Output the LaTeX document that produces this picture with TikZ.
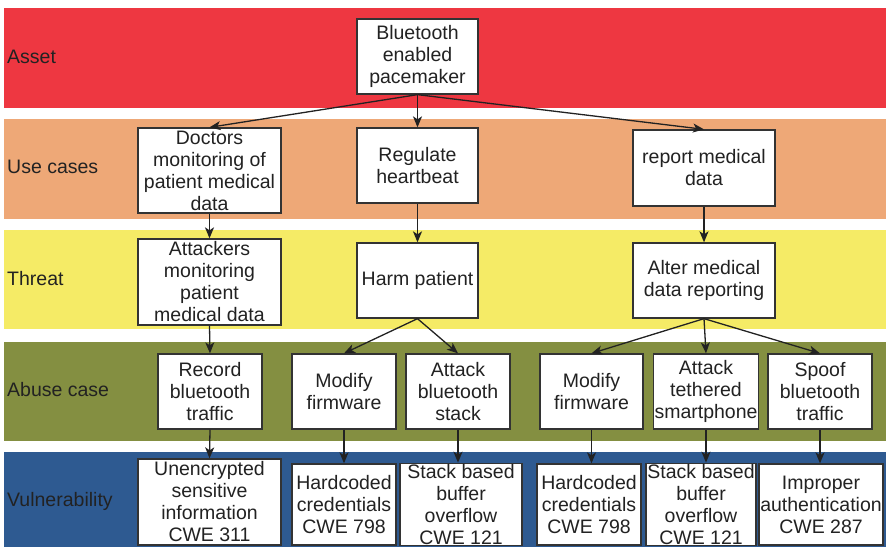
\documentclass[tikz,border=0pt]{standalone}
\usepackage{fontspec}
\setmainfont{Liberation Sans}
\usetikzlibrary{arrows.meta}

\definecolor{assetred}{HTML}{EE3741}
\definecolor{usecase}{HTML}{EEA877}
\definecolor{threatyellow}{HTML}{F5EB66}
\definecolor{abuseolive}{HTML}{848F41}
\definecolor{vulnblue}{HTML}{2E5A91}
\definecolor{inkdark}{HTML}{222222}
\definecolor{boxedge}{HTML}{333333}

\tikzset{
  box/.style={draw=boxedge, line width=1.3pt, fill=white, align=center,
    inner sep=1pt, text=inkdark, font=\fontsize{19.5}{22}\selectfont},
  lbl/.style={anchor=west, inner sep=0pt, text=inkdark,
    font=\fontsize{19.5}{22}\selectfont},
  arr/.style={-{Stealth[length=11pt,width=9pt,inset=3pt]}, line width=1.3pt, draw=inkdark}
}

\begin{document}
\begin{tikzpicture}[x=1pt,y=-1pt]
    \useasboundingbox (0,0) rectangle (888,548);

    % bands
    \fill[assetred] (4,8) rectangle (886,108);
    \fill[usecase] (4,119) rectangle (886,219);
    \fill[threatyellow] (4,230) rectangle (886,329);
    \fill[abuseolive] (4,342) rectangle (886,441);
    \fill[vulnblue] (4,452) rectangle (886,547);

    \node[lbl] (lasset) at (7,57) {Asset};
    \node[lbl] (luse) at (7,167) {Use cases};
    \node[lbl] (lthreat) at (7,279) {Threat};
    \node[lbl] (labuse) at (7,390) {Abuse case};
    \node[lbl] (lvuln) at (7,501) {Vulnerability};

    % asset
    \node[box, minimum width=121, minimum height=75] (pace) at (417.5,56.5) {Bluetooth\\enabled\\pacemaker};

    % use cases
    \node[box, minimum width=143, minimum height=85] (doc) at (209.5,170.5) {Doctors\\monitoring of\\patient medical\\data};
    \node[box, minimum width=121, minimum height=75] (reg) at (417.5,165.5) {Regulate\\heartbeat};
    \node[box, minimum width=142, minimum height=76] (rep) at (704,168) {report medical\\data};

    % threats
    \node[box, minimum width=143, minimum height=86] (att) at (209.5,282) {Attackers\\monitoring\\patient\\medical data};
    \node[box, minimum width=121, minimum height=75] (harm) at (417.5,280.5) {Harm patient};
    \node[box, minimum width=142, minimum height=75] (alter) at (704,280.5) {Alter medical\\data reporting};

    % abuse cases
    \node[box, minimum width=104, minimum height=75] (rec) at (210,391.5) {Record\\bluetooth\\traffic};
    \node[box, minimum width=104, minimum height=75] (modA) at (344,391.5) {Modify\\firmware};
    \node[box, minimum width=104, minimum height=75] (stk) at (458,391.5) {Attack\\bluetooth\\stack};
    \node[box, minimum width=103, minimum height=75] (modB) at (591.5,391.5) {Modify\\firmware};
    \node[box, minimum width=104, minimum height=75] (teth) at (706,391.5) {Attack\\tethered\\smartphone};
    \node[box, minimum width=104, minimum height=75] (spoof) at (820,391.5) {Spoof\\bluetooth\\traffic};

    % vulnerabilities
    \node[box, minimum width=143, minimum height=86] (unenc) at (209.5,502) {Unencrypted\\sensitive\\information\\CWE 311};
    \node[box, minimum width=104, minimum height=81] (hardA) at (344,504.5) {Hardcoded\\credentials\\CWE 798};
    \node[box, minimum width=122, minimum height=81] (sboA) at (461,504.5) {Stack based\\buffer\\overflow\\CWE 121};
    \node[box, minimum width=104, minimum height=81] (hardB) at (589,504.5) {Hardcoded\\credentials\\CWE 798};
    \node[box, minimum width=110, minimum height=81] (sboB) at (701,504.5) {Stack based\\buffer\\overflow\\CWE 121};
    \node[box, minimum width=124, minimum height=81] (impr) at (821,504.5) {Improper\\authentication\\CWE 287};

    % connectors
    \draw[arr] (pace.south) -- (doc.north);
    \draw[arr] (pace.south) -- (reg.north);
    \draw[arr] (pace.south) -- (rep.north);

    \draw[arr] (doc.south) -- (att.north);
    \draw[arr] (reg.south) -- (harm.north);
    \draw[arr] (rep.south) -- (alter.north);

    \draw[arr] (att.south) -- (rec.north);
    \draw[arr] (harm.south) -- (modA.north);
    \draw[arr] (harm.south) -- (stk.north);
    \draw[arr] (alter.south) -- (modB.north);
    \draw[arr] (alter.south) -- (teth.north);
    \draw[arr] (alter.south) -- (spoof.north);

    \draw[arr] (rec.south) -- (unenc.north);
    \draw[arr] (modA.south) -- (hardA.north);
    \draw[arr] (stk.south) -- (stk.south |- sboA.north);
    \draw[arr] (modB.south) -- (modB.south |- hardB.north);
    \draw[arr] (teth.south) -- (teth.south |- sboB.north);
    \draw[arr] (spoof.south) -- (spoof.south |- impr.north);
\end{tikzpicture}
\end{document}
